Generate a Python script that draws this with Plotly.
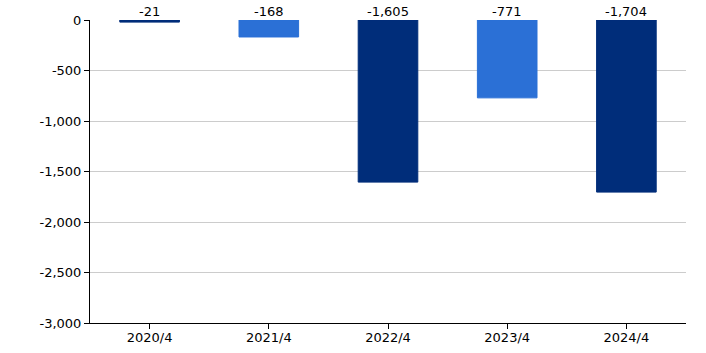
import plotly.graph_objects as go

categories = ["2020/4", "2021/4", "2022/4", "2023/4", "2024/4"]
values = [-21, -168, -1605, -771, -1704]
colors = ["#002D7A", "#2B70D6", "#002D7A", "#2B70D6", "#002D7A"]
y_ticks = [0, -500, -1000, -1500, -2000, -2500, -3000]

font = "DejaVu Sans, Verdana, sans-serif"

fig = go.Figure()
fig.add_trace(go.Bar(x=categories, y=values,
                     marker=dict(color=colors, line=dict(width=1, color=colors)),
                     width=0.5, hoverinfo="skip"))
for c, v in zip(categories, values):
    fig.add_annotation(x=c, y=0, text=f"{v:,}", showarrow=False, yanchor="bottom",
                       yshift=-1, font=dict(family=font, size=13, color="#000"))

fig.update_layout(
    width=706, height=353, margin=dict(l=90, r=20, t=20, b=30),
    plot_bgcolor="white", paper_bgcolor="white", showlegend=False,
    font=dict(family=font, size=13, color="#000"),
    xaxis=dict(showline=True, linecolor="#000", linewidth=1, ticks="outside",
               ticklen=5, tickcolor="#000", showgrid=False, tickfont=dict(size=13),
               automargin=False, ticklabelstandoff=-3),
    yaxis=dict(range=[-3000, 0], tickvals=y_ticks,
               ticktext=[f"{t:,}" for t in y_ticks], showline=True, linecolor="#000",
               linewidth=1, ticks="outside", ticklen=5, tickcolor="#000",
               gridcolor="#CCCCCC", gridwidth=1, zeroline=False, tickfont=dict(size=13),
               automargin=False),
)
fig.write_html("out.html")
